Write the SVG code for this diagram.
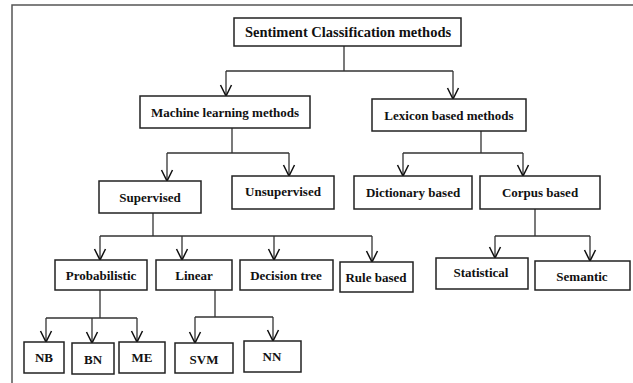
<svg xmlns="http://www.w3.org/2000/svg" width="633" height="383" viewBox="0 0 633 383">
<style>
.box{fill:#fff;stroke:#222;stroke-width:1.5}
.lbl{font-family:"Liberation Serif","Times New Roman",serif;font-weight:bold;font-size:13px;fill:#111;text-anchor:middle;dominant-baseline:central}
.big{font-size:14.5px}
.ln{fill:none;stroke:#333;stroke-width:1.3}
.frame{fill:none;stroke:#555;stroke-width:1.5}
</style>
<defs>
<marker id="arr" markerUnits="userSpaceOnUse" markerWidth="14" markerHeight="14" refX="0" refY="0" orient="auto" overflow="visible">
<path d="M-11,-5.5 L0,0 L-11,5.5" fill="none" stroke="#111" stroke-width="1.5"/>
</marker>
</defs>
<path class="frame" d="M12,383 L12,5 L633,5"/>
<g id="connectors">
<path class="ln" d="M344,46 V71 M226,71 H453 M153,213 V236 M100,236 H372 M232,128 V153 M167,153 H289 M481,131 V153 M403,153 H523 M535,209 V236 M495,236 H590 M100,290 V318 M46,318 H137 M215,290 V317 M195,317 H273"/>
<path class="ln" marker-end="url(#arr)" d="M226,71 V96"/>
<path class="ln" marker-end="url(#arr)" d="M453,71 V99"/>
<path class="ln" marker-end="url(#arr)" d="M167,153 V181"/>
<path class="ln" marker-end="url(#arr)" d="M289,153 V176"/>
<path class="ln" marker-end="url(#arr)" d="M403,153 V176"/>
<path class="ln" marker-end="url(#arr)" d="M523,153 V176"/>
<path class="ln" marker-end="url(#arr)" d="M100,236 V260"/>
<path class="ln" marker-end="url(#arr)" d="M182,236 V260"/>
<path class="ln" marker-end="url(#arr)" d="M274,236 V260"/>
<path class="ln" marker-end="url(#arr)" d="M372,236 V262"/>
<path class="ln" marker-end="url(#arr)" d="M495,236 V258"/>
<path class="ln" marker-end="url(#arr)" d="M590,236 V261"/>
<path class="ln" marker-end="url(#arr)" d="M46,318 V342"/>
<path class="ln" marker-end="url(#arr)" d="M92,318 V343"/>
<path class="ln" marker-end="url(#arr)" d="M137,318 V342"/>
<path class="ln" marker-end="url(#arr)" d="M195,317 V343"/>
<path class="ln" marker-end="url(#arr)" d="M273,317 V341"/>
</g>
<g id="root"><rect class="box" x="234" y="18" width="227" height="28"/><text class="lbl big" x="348" y="32">Sentiment Classification methods</text></g>
<g id="ml"><rect class="box" x="140" y="96" width="170" height="32"/><text class="lbl" x="225" y="112">Machine learning methods</text></g>
<g id="lexicon"><rect class="box" x="372" y="99" width="154" height="32"/><text class="lbl" x="449" y="115">Lexicon based methods</text></g>
<g id="supervised"><rect class="box" x="99" y="181" width="102" height="32"/><text class="lbl" x="150" y="197">Supervised</text></g>
<g id="unsupervised"><rect class="box" x="232" y="176" width="102" height="33"/><text class="lbl" x="283" y="191">Unsupervised</text></g>
<g id="dictionary"><rect class="box" x="354" y="176" width="118" height="33"/><text class="lbl" x="413" y="192">Dictionary based</text></g>
<g id="corpus"><rect class="box" x="480" y="176" width="120" height="33"/><text class="lbl" x="540" y="192">Corpus based</text></g>
<g id="probabilistic"><rect class="box" x="55" y="260" width="92" height="30"/><text class="lbl" x="101" y="275">Probabilistic</text></g>
<g id="linear"><rect class="box" x="156" y="260" width="76" height="30"/><text class="lbl" x="194" y="275">Linear</text></g>
<g id="decision"><rect class="box" x="240" y="260" width="93" height="30"/><text class="lbl" x="286" y="275">Decision tree</text></g>
<g id="rule"><rect class="box" x="340" y="262" width="73" height="30"/><text class="lbl" x="376" y="277">Rule based</text></g>
<g id="statistical"><rect class="box" x="436" y="258" width="92" height="31"/><text class="lbl" x="481" y="272">Statistical</text></g>
<g id="semantic"><rect class="box" x="535" y="261" width="95" height="29"/><text class="lbl" x="582" y="276">Semantic</text></g>
<g id="nb"><rect class="box" x="24" y="342" width="40" height="31"/><text class="lbl" x="44" y="357">NB</text></g>
<g id="bn"><rect class="box" x="72" y="343" width="42" height="31"/><text class="lbl" x="93" y="359">BN</text></g>
<g id="me"><rect class="box" x="119" y="342" width="46" height="31"/><text class="lbl" x="142" y="357">ME</text></g>
<g id="svm"><rect class="box" x="175" y="343" width="58" height="30"/><text class="lbl" x="204" y="359">SVM</text></g>
<g id="nn"><rect class="box" x="244" y="341" width="57" height="31"/><text class="lbl" x="272" y="356">NN</text></g>
</svg>
